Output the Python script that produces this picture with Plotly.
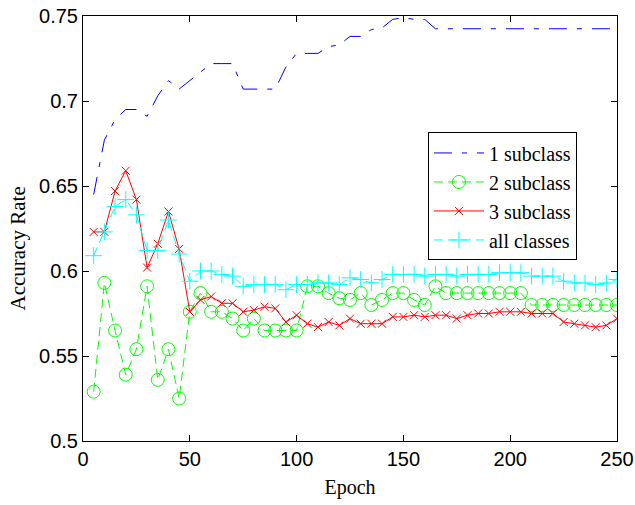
import plotly.graph_objects as go

epochs = [5, 10, 15, 20, 25, 30, 35, 40, 45, 50,
          55, 60, 65, 70, 75, 80, 85, 90, 95, 100,
          105, 110, 115, 120, 125, 130, 135, 140, 145, 150,
          155, 160, 165, 170, 175, 180, 185, 190, 195, 200,
          205, 210, 215, 220, 225, 230, 235, 240, 245, 250]

sub1 = [0.645, 0.677, 0.689, 0.695, 0.695, 0.691, 0.703, 0.712, 0.707, 0.712,
        0.717, 0.722, 0.722, 0.722, 0.707, 0.707, 0.707, 0.707, 0.720, 0.728,
        0.728, 0.728, 0.732, 0.733, 0.738, 0.738, 0.742, 0.743, 0.748, 0.749,
        0.748, 0.748, 0.7425, 0.7425, 0.7425, 0.7425, 0.7425, 0.7425, 0.7425, 0.7425,
        0.7425, 0.7425, 0.7425, 0.7425, 0.7425, 0.7425, 0.7425, 0.7425, 0.7425, 0.7425]

sub2 = [0.529, 0.593, 0.565, 0.539, 0.554, 0.591, 0.536, 0.554, 0.525, 0.576,
        0.587, 0.576, 0.576, 0.572, 0.565, 0.572, 0.565, 0.565, 0.565, 0.565,
        0.591, 0.591, 0.587, 0.584, 0.583, 0.587, 0.580, 0.583, 0.587, 0.587,
        0.583, 0.580, 0.591, 0.587, 0.587, 0.587, 0.587, 0.587, 0.587, 0.587,
        0.587, 0.580, 0.580, 0.580, 0.580, 0.580, 0.580, 0.580, 0.580, 0.580]

sub3 = [0.623, 0.623, 0.647, 0.659, 0.642, 0.602, 0.616, 0.635, 0.613, 0.576,
        0.583, 0.585, 0.581, 0.581, 0.576, 0.577, 0.579, 0.578, 0.570, 0.574,
        0.569, 0.567, 0.570, 0.568, 0.572, 0.569, 0.569, 0.569, 0.573, 0.573,
        0.574, 0.573, 0.574, 0.574, 0.572, 0.574, 0.575, 0.575, 0.576, 0.576,
        0.576, 0.575, 0.575, 0.575, 0.570, 0.569, 0.568, 0.567, 0.568, 0.572]

allc = [0.609, 0.623, 0.638, 0.642, 0.633, 0.612, 0.612, 0.630, 0.610, 0.594,
        0.600, 0.600, 0.598, 0.597, 0.591, 0.592, 0.592, 0.592, 0.589, 0.592,
        0.592, 0.593, 0.593, 0.592, 0.596, 0.595, 0.593, 0.595, 0.598, 0.598,
        0.598, 0.597, 0.598, 0.598, 0.597, 0.598, 0.598, 0.598, 0.599, 0.599,
        0.599, 0.597, 0.597, 0.597, 0.594, 0.593, 0.593, 0.592, 0.593, 0.595]

names = ["1 subclass", "2 subclass", "3 subclass", "all classes"]
xticks = [0, 50, 100, 150, 200, 250]
yticks = [0.5, 0.55, 0.6, 0.65, 0.7, 0.75]
yticklabels = ["0.5", "0.55", "0.6", "0.65", "0.7", "0.75"]

fig = go.Figure()
fig.add_trace(go.Scatter(
    x=epochs, y=sub1, name=names[0], mode="lines",
    line=dict(color="#0000ff", width=1, dash="18px,10px,5px,10px")))
fig.add_trace(go.Scatter(
    x=epochs, y=sub2, name=names[1], mode="lines+markers",
    line=dict(color="#00ff00", width=1, dash="9px,5px"),
    marker=dict(symbol="circle-open", size=13, color="#00ff00",
                line=dict(width=1, color="#00ff00"))))
fig.add_trace(go.Scatter(
    x=epochs, y=sub3, name=names[2], mode="lines+markers",
    line=dict(color="#ff0000", width=1),
    marker=dict(symbol="x-thin-open", size=8, color="#ff0000",
                line=dict(width=1, color="#ff0000"))))
fig.add_trace(go.Scatter(
    x=epochs, y=allc, name=names[3], mode="lines+markers",
    line=dict(color="#00ffff", width=1, dash="9px,5px"),
    marker=dict(symbol="cross-thin-open", size=12, color="#00ffff",
                line=dict(width=1, color="#00ffff"))))

axis_common = dict(
    showline=True, linecolor="black", linewidth=1, mirror="ticks",
    ticks="inside", ticklen=6, tickcolor="black", tickwidth=1,
    showgrid=False, zeroline=False, automargin=False,
    tickfont=dict(family="Liberation Sans, Arial, sans-serif", size=20, color="black"),
)

serif = "Liberation Serif, Times New Roman, serif"

fig.update_xaxes(range=[0, 250], tickvals=xticks, ticktext=[str(t) for t in xticks],
                 title=dict(text="Epoch", font=dict(family=serif, size=20, color="black"),
                            standoff=10),
                 **axis_common)
fig.update_yaxes(range=[0.5, 0.75], tickvals=yticks, ticktext=yticklabels,
                 **axis_common)

fig.add_annotation(text="Accuracy Rate", textangle=-90, showarrow=False,
                   xref="paper", yref="paper", x=-0.1199, y=0.453,
                   xanchor="center", yanchor="middle",
                   font=dict(family=serif, size=21, color="black"))

fig.update_layout(
    width=635, height=505,
    margin=dict(l=83, r=18, t=16, b=64, autoexpand=False),
    paper_bgcolor="white", plot_bgcolor="white",
    showlegend=True,
    legend=dict(x=0.646, y=0.726, xanchor="left", yanchor="top",
                bgcolor="white", bordercolor="black", borderwidth=1,
                font=dict(family=serif, size=20, color="black"),
                itemwidth=50, tracegroupgap=0),
)

fig.write_html("out.html")
